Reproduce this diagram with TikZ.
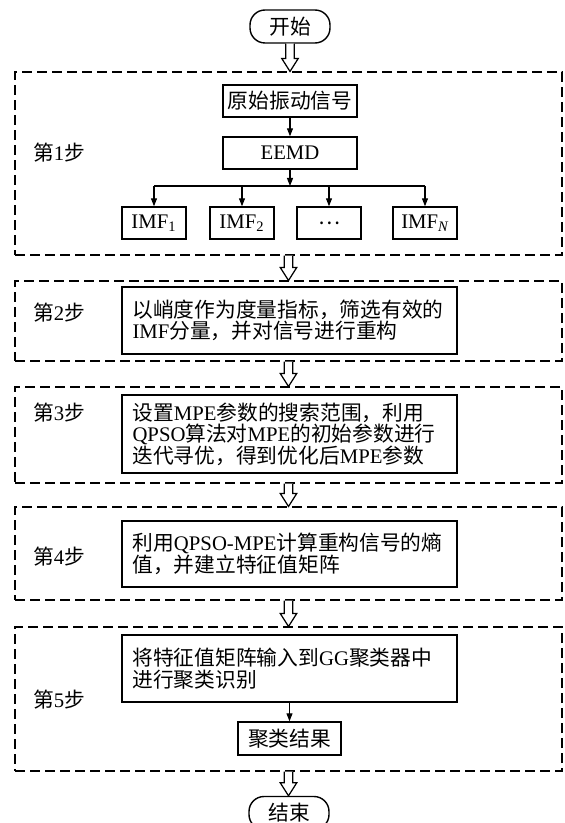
\documentclass[tikz,border=0pt]{standalone}
\usepackage{fontspec}
\setmainfont{Noto Sans CJK SC}
\newfontfamily\tnr{Liberation Serif}
\newcommand{\en}[1]{{\tnr #1}}
\usetikzlibrary{arrows.meta,positioning,calc}
\tikzset{
  term/.style={draw, line width=0.8pt, rounded corners=0.3cm, minimum width=1.6cm, minimum height=0.66cm, inner sep=0pt},
  proc/.style={draw, line width=0.8pt, align=center, inner sep=0pt, minimum height=0.64cm},
  note/.style={draw, line width=0.8pt, align=left, text width=6.28cm, inner xsep=0.21cm, inner ysep=0pt},
  stage/.style={draw, line width=0.6pt, dash pattern=on 0.2cm off 0.1cm, minimum width=10.94cm, inner sep=0pt},
  flow/.style={-{Triangle[length=1.6mm,width=1.2mm]}, line width=0.6pt},
  hollow/.style={draw, fill=white, line width=0.7pt, line join=miter},
  info/.style={align=center}
}
% hollow block arrow between two anchors
\newcommand{\blockarrow}[2]{%
  \path[hollow] let \p1=(#1), \p2=(#2) in
    (\x1-0.085cm,\y1) -- (\x1-0.085cm,\y2+0.26cm) -- (\x1-0.165cm,\y2+0.26cm)
    -- (\x1,\y2) -- (\x1+0.165cm,\y2+0.26cm) -- (\x1+0.085cm,\y2+0.26cm) -- (\x1+0.085cm,\y1);}

\begin{document}
\begin{tikzpicture}[font=\fontsize{11.8}{12.2}\selectfont]
  \useasboundingbox (0,0) rectangle (11.28,-16.46);

  % dashed stage frames
  \node[stage, minimum height=3.66cm] (s1) at (5.77,-3.27) {};
  \node[stage, minimum height=1.60cm] (s2) at (5.77,-6.42) {};
  \node[stage, minimum height=1.92cm] (s3) at (5.77,-8.70) {};
  \node[stage, minimum height=1.86cm] (s4) at (5.77,-11.07) {};
  \node[stage, minimum height=2.88cm] (s5) at (5.77,-13.98) {};

  \node[info] (l1) at (1.18,-3.06) {第\en{1}步};
  \node[info] (l2) at (1.18,-6.26) {第\en{2}步};
  \node[info] (l3) at (1.18,-8.26) {第\en{3}步};
  \node[info] (l4) at (1.18,-11.14) {第\en{4}步};
  \node[info] (l5) at (1.18,-14.00) {第\en{5}步};

  \node[term] (start) at (5.80,-0.53) {开始};
  \node[term] (stop) at (5.78,-16.26) {结束};

  % step 1: decomposition
  \node[proc, minimum width=2.68cm] (raw) at (5.80,-2.02) {原始振动信号};
  \node[proc, minimum width=2.68cm] (eemd) at (5.80,-3.06) {\en{EEMD}};
  \coordinate (split) at (5.80,-3.72);
  \node[proc, minimum width=1.28cm] (imf1) at (3.08,-4.46) {\en{IMF\textsubscript{1}}};
  \node[proc, minimum width=1.28cm] (imf2) at (4.84,-4.46) {\en{IMF\textsubscript{2}}};
  \node[proc, minimum width=1.28cm] (dots) at (6.58,-4.46) {⋯};
  \node[proc, minimum width=1.28cm] (imfn) at (8.50,-4.46) {\en{IMF\textsubscript{\itshape N}}};

  \draw[flow] (raw) -- (eemd);
  \draw[flow] (eemd) -- (split);
  \draw[line width=0.6pt] (split -| imf1) -- (split -| imfn);
  \foreach \m in {imf1,imf2,dots,imfn}
    \draw[flow] (split -| \m) -- (\m);

  % steps 2-5
  \node[note, minimum height=1.34cm] (t2) at (5.79,-6.41) {以峭度作为度量指标，筛选有效的\\\en{IMF}分量，并对信号进行重构};
  \node[note, minimum height=1.56cm] (t3) at (5.79,-8.68) {设置\en{MPE}参数的搜索范围，利用\\\en{QPSO}算法对\en{MPE}的初始参数进行\\迭代寻优，得到优化后\en{MPE}参数};
  \node[note, minimum height=1.32cm] (t4) at (5.79,-11.08) {利用\en{QPSO-MPE}计算重构信号的熵\\值，并建立特征值矩阵};
  \node[note, minimum height=1.34cm] (t5) at (5.79,-13.37) {将特征值矩阵输入到\en{GG}聚类器中\\进行聚类识别};
  \node[proc, minimum width=2.06cm, minimum height=0.66cm] (result) at (5.79,-14.77) {聚类结果};
  \draw[flow] (t5) -- (result);

  % hollow arrows between stages
  \blockarrow{start.south}{s1.north}
  \blockarrow{s1.south}{s2.north}
  \blockarrow{s2.south}{s3.north}
  \blockarrow{s3.south}{s4.north}
  \blockarrow{s4.south}{s5.north}
  \blockarrow{s5.south}{stop.north}
\end{tikzpicture}
\end{document}
